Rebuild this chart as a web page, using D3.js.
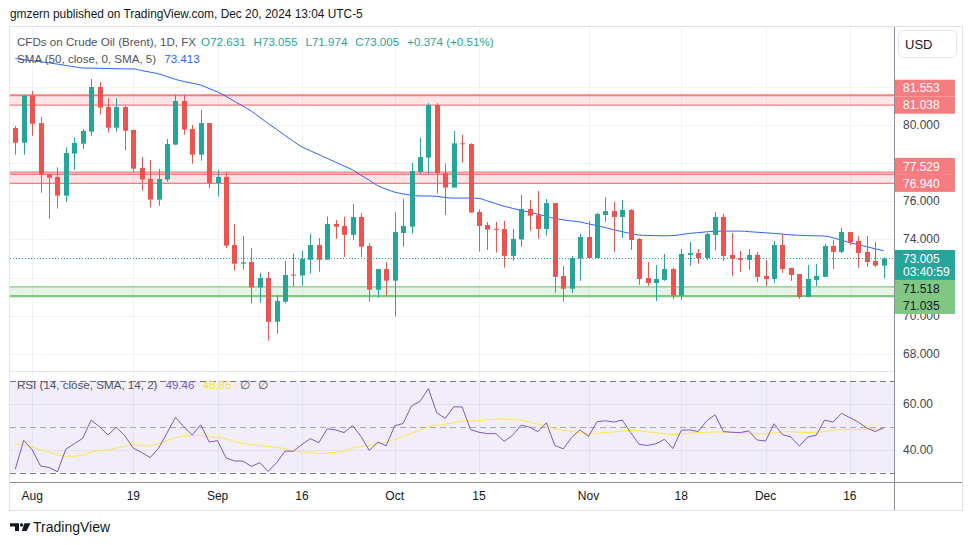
<!DOCTYPE html>
<html>
<head>
<meta charset="utf-8">
<script src="https://cdn.jsdelivr.net/npm/d3@7"></script>
<style>
  body { margin: 0; background: #fff; }
  svg { display: block; font-family: "Liberation Sans", Arial, sans-serif; }
</style>
</head>
<body>
<svg id="chart" width="970" height="545"></svg>
<script>
// daily bars, Jul 30 .. Dec 20 2024
const opens = [79.84,79.07,81.54,80.10,77.41,77.28,76.30,78.50,79.02,79.65,
  81.99,80.94,79.86,80.94,79.74,77.75,77.17,76.09,77.14,78.97,
  81.26,79.79,78.45,80.10,76.96,77.28,73.71,72.73,72.82,71.48,
  71.98,69.69,70.74,72.16,72.11,72.94,73.71,72.94,74.81,74.71,
  74.24,75.18,73.66,71.37,72.45,71.84,74.34,74.67,77.54,78.29,
  81.05,77.47,76.72,79.04,79.00,75.44,74.76,74.55,74.55,73.14,
  74.00,75.60,75.28,74.55,75.91,72.09,71.42,73.00,74.13,73.03,
  75.28,75.49,75.18,75.55,74.03,71.98,71.72,71.88,72.45,71.06,
  73.19,73.29,73.03,74.24,75.18,73.19,73.03,72.93,73.19,72.09,
  71.93,73.71,72.51,72.19,70.99,71.88,72.04,73.66,73.35,74.39,
  73.92,73.35,72.87,72.631];
const highs = [79.95,81.55,81.78,80.42,77.41,77.78,78.83,79.35,79.79,82.41,
  82.24,81.41,81.41,81.01,79.74,78.32,78.17,77.69,79.27,81.59,
  81.59,80.00,80.79,80.10,77.64,77.52,74.81,74.18,73.55,72.24,
  72.30,71.09,72.87,73.26,73.40,74.29,74.08,75.20,75.02,75.20,
  75.86,75.39,73.80,72.45,72.82,75.44,76.12,78.01,79.32,81.14,
  81.14,77.99,79.69,79.48,79.04,75.58,74.92,74.92,74.97,74.55,
  76.33,76.07,76.54,76.12,75.91,72.61,73.14,74.29,74.97,75.39,
  76.23,75.97,76.07,75.60,74.08,72.82,72.66,73.24,72.51,73.50,
  73.87,73.50,74.34,75.44,75.34,74.34,73.40,73.50,73.35,72.93,
  73.92,74.29,72.51,72.19,72.66,72.72,73.76,73.97,74.60,74.39,
  74.18,74.18,73.87,73.055];
const lows = [78.45,78.45,79.44,76.45,75.09,75.62,75.98,77.66,78.74,79.44,
  80.54,79.60,79.65,78.66,77.54,76.56,75.69,75.77,77.03,78.97,
  79.49,77.97,78.13,76.70,76.24,73.54,72.37,72.42,70.64,70.69,
  68.70,69.08,70.66,71.53,71.58,72.21,72.31,72.94,74.04,73.08,
  73.97,73.08,70.74,70.95,71.06,69.96,73.62,74.31,77.41,77.41,
  76.42,75.28,76.72,78.03,75.41,73.36,73.45,73.31,72.52,72.89,
  73.62,74.45,74.03,74.20,71.20,70.73,71.20,71.83,73.00,73.03,
  74.93,73.35,74.08,73.45,71.62,71.56,70.78,71.83,70.88,70.83,
  72.63,72.73,72.93,73.45,72.87,72.09,72.30,72.40,71.77,71.56,
  71.72,72.25,71.83,70.88,70.99,71.56,72.04,72.45,73.29,73.71,
  72.51,72.56,72.56,71.974];
const closes = [79.07,81.54,80.07,77.40,77.24,76.30,78.53,79.06,79.69,81.99,
  80.91,79.86,80.94,79.70,77.71,77.14,76.09,77.17,79.00,81.26,
  79.76,78.45,80.10,76.96,77.28,73.68,72.73,72.80,71.48,71.98,
  69.69,70.78,72.14,72.11,72.98,73.71,72.94,74.81,74.67,74.24,
  75.18,73.62,71.37,72.45,71.84,74.39,74.71,77.59,78.32,81.05,
  77.47,76.72,79.04,79.00,75.41,74.71,74.52,74.50,73.14,74.03,
  75.60,75.25,74.55,75.91,72.04,71.42,73.03,74.13,73.03,75.34,
  75.49,75.18,75.55,73.97,71.93,71.72,71.93,72.45,71.06,73.24,
  73.29,73.03,74.29,75.18,73.14,72.98,72.93,73.19,72.04,71.93,
  73.71,72.45,72.14,70.99,71.93,72.09,73.66,73.35,74.39,73.87,
  73.29,72.82,72.631,73.005];
const sma50 = [83.48,83.42,83.37,83.31,83.26,83.19,83.12,83.05,82.99,82.98,
  82.97,82.96,82.95,82.94,82.94,82.85,82.77,82.68,82.54,82.39,
  82.28,82.19,82.09,81.91,81.73,81.50,81.24,80.99,80.73,80.40,
  80.08,79.77,79.45,79.14,78.85,78.65,78.45,78.25,78.05,77.85,
  77.65,77.37,77.10,76.82,76.64,76.48,76.39,76.32,76.28,76.28,
  76.26,76.20,76.17,76.17,76.17,76.15,76.02,75.88,75.74,75.63,
  75.53,75.43,75.33,75.21,75.10,75.03,74.97,74.92,74.82,74.72,
  74.62,74.51,74.41,74.31,74.23,74.21,74.20,74.19,74.20,74.26,
  74.32,74.36,74.40,74.43,74.44,74.44,74.44,74.41,74.38,74.35,
  74.32,74.28,74.24,74.22,74.20,74.19,74.18,74.09,73.96,73.83,
  73.73,73.62,73.51,73.413];
const rsi = [31.47,43.97,39.86,32.80,32.21,30.30,40.15,42.50,44.86,52.80,
  49.86,46.33,49.71,45.89,40.59,38.68,36.47,40.59,47.21,53.97,
  49.86,46.33,50.74,43.24,43.83,36.33,35.00,35.00,32.65,34.27,
  30.44,34.27,39.27,39.27,42.21,44.71,42.94,48.97,48.53,47.36,
  50.44,45.74,39.56,43.24,41.62,50.30,51.33,58.97,60.89,66.47,
  55.89,53.53,58.53,58.53,48.68,47.50,46.91,46.91,43.53,46.18,
  50.59,49.71,47.79,51.62,41.76,40.29,45.29,48.53,45.74,52.06,
  52.50,51.91,52.79,47.35,42.21,41.76,42.50,44.41,40.44,48.38,
  48.53,47.79,52.35,55.15,47.79,47.50,47.35,48.09,44.12,43.68,
  51.18,46.47,45.44,41.47,45.44,46.18,52.79,51.91,55.74,53.82,
  51.91,49.41,47.79,49.46];
const rsiMa = [42.50,42.06,41.03,39.85,38.97,37.50,37.06,37.06,37.50,38.97,
  39.56,39.71,40.59,41.32,42.06,41.62,41.47,42.50,43.82,45.15,
  45.88,46.18,46.03,45.44,45.29,44.71,43.53,42.65,42.06,41.76,
  41.32,40.88,40.44,39.26,38.97,38.82,38.09,38.53,38.82,39.41,
  40.59,41.32,41.62,42.50,43.24,44.41,45.59,47.06,48.38,49.85,
  50.59,51.03,51.62,52.35,52.35,52.50,52.94,53.24,53.24,53.09,
  52.79,51.91,51.03,50.15,49.12,48.38,47.79,47.35,46.76,47.06,
  47.35,47.65,48.09,48.38,48.09,47.65,47.35,46.76,46.47,46.76,
  47.06,47.35,47.50,47.65,47.50,47.50,47.21,47.06,46.76,46.91,
  47.21,47.65,47.79,47.50,47.35,47.50,47.79,48.38,48.68,48.60,
  48.70,48.80,48.80,48.85];

const timeTickIdx = [2, 14, 24, 34, 45, 55, 68, 79, 89, 99];
const timeTickLabels = ["Aug", "19", "Sep", "16", "Oct", "15", "Nov", "18", "Dec", "16"];
const priceTicks = [68, 70, 72, 74, 76, 78, 80, 82];
const rsiTicks = [40, 60];
const rsiBands = [30, 50, 70];
const redZones = [[81.038, 81.553], [76.940, 77.529]];
const redZoneExtra = [77.42];
const greenZone = [71.035, 71.518];
const countdown = "03:40:59";

const UP = "#26a69a", DOWN = "#ef5350";
const L = 10, R = 894, TOP = 27, MAIN_B = 371, RSI_T = 372, RSI_B = 482, AX_B = 510;

const svg = d3.select("#chart");
const x = d3.scaleLinear().domain([0, 103]).range([15.3, 883.6]);
const y = d3.scaleLinear().domain([68, 80]).range([353.96, 125]);
const yr = d3.scaleLinear().domain([30, 70]).range([472.5, 380.5]);

const defs = svg.append("defs");
defs.append("clipPath").attr("id", "mainClip")
  .append("rect").attr("x", L).attr("y", TOP).attr("width", R - L).attr("height", MAIN_B - TOP);
defs.append("clipPath").attr("id", "rsiClip")
  .append("rect").attr("x", L).attr("y", RSI_T).attr("width", R - L).attr("height", RSI_B - RSI_T);

// header
svg.append("text").attr("x", 10).attr("y", 18).attr("font-size", 11.9).attr("fill", "#131722")
  .text("gmzern published on TradingView.com, Dec 20, 2024 13:04 UTC-5");

// frame
svg.append("rect").attr("x", 9.5).attr("y", 26.5).attr("width", 953).attr("height", AX_B - 26)
  .attr("fill", "none").attr("stroke", "#e0e3eb");

// grid
const grid = svg.append("g");
grid.selectAll("line.v").data(timeTickIdx).join("line")
  .attr("x1", d => Math.round(x(d)) + 0.5).attr("x2", d => Math.round(x(d)) + 0.5)
  .attr("y1", TOP).attr("y2", RSI_B).attr("stroke", "#f0f3fa");
const main = svg.append("g").attr("clip-path", "url(#mainClip)");
main.selectAll("line.h").data(priceTicks).join("line")
  .attr("x1", L).attr("x2", R)
  .attr("y1", d => Math.round(y(d)) + 0.5).attr("y2", d => Math.round(y(d)) + 0.5)
  .attr("stroke", "#f0f3fa");

// zones
redZones.forEach(([lo, hi], k) => {
  main.append("rect").attr("x", L).attr("width", R - L)
    .attr("y", y(hi)).attr("height", y(lo) - y(hi)).attr("fill", "rgba(242,54,69,0.13)");
  main.append("line").attr("x1", L).attr("x2", R).attr("y1", y(hi)).attr("y2", y(hi))
    .attr("stroke", "#f77c80").attr("stroke-width", k === 0 ? 2 : 1.3);
  main.append("line").attr("x1", L).attr("x2", R).attr("y1", y(lo)).attr("y2", y(lo))
    .attr("stroke", "#f77c80").attr("stroke-width", 1.3);
});
redZoneExtra.forEach(v => {
  main.append("line").attr("x1", L).attr("x2", R).attr("y1", y(v)).attr("y2", y(v))
    .attr("stroke", "#f77c80").attr("stroke-width", 1.3);
});
main.append("rect").attr("x", L).attr("width", R - L)
  .attr("y", y(greenZone[1])).attr("height", y(greenZone[0]) - y(greenZone[1]))
  .attr("fill", "rgba(76,175,80,0.14)");
main.append("line").attr("x1", L).attr("x2", R).attr("y1", y(greenZone[1])).attr("y2", y(greenZone[1]))
  .attr("stroke", "#81c784").attr("stroke-width", 1.2);
main.append("line").attr("x1", L).attr("x2", R).attr("y1", y(greenZone[0])).attr("y2", y(greenZone[0]))
  .attr("stroke", "#81c784").attr("stroke-width", 2.2);

// sma
main.append("path").datum(sma50)
  .attr("d", d3.line().x((d, i) => x(i)).y(d => y(d)).curve(d3.curveMonotoneX))
  .attr("fill", "none").attr("stroke", "#2962ff").attr("stroke-width", 1);

// candles
const bars = d3.range(opens.length);
const cg = main.append("g");
cg.selectAll("line.wick").data(bars).join("line")
  .attr("x1", i => Math.round(x(i)) + 0.5).attr("x2", i => Math.round(x(i)) + 0.5)
  .attr("y1", i => y(highs[i])).attr("y2", i => y(lows[i]))
  .attr("stroke", i => closes[i] >= opens[i] ? UP : DOWN);
cg.selectAll("rect.body").data(bars).join("rect")
  .attr("x", i => Math.round(x(i)) - 2).attr("width", 5)
  .attr("y", i => y(Math.max(opens[i], closes[i])))
  .attr("height", i => Math.max(1, Math.abs(y(opens[i]) - y(closes[i]))))
  .attr("fill", i => closes[i] >= opens[i] ? UP : DOWN);

// last price line
const last = opens.length - 1;
main.append("line").attr("x1", L).attr("x2", R)
  .attr("y1", Math.round(y(closes[last])) + 0.5).attr("y2", Math.round(y(closes[last])) + 0.5)
  .attr("stroke", UP).attr("stroke-dasharray", "1,2");

// pane separator
svg.append("line").attr("x1", L).attr("x2", R).attr("y1", MAIN_B + 0.5).attr("y2", MAIN_B + 0.5)
  .attr("stroke", "#e0e3eb");

// RSI pane
const rp = svg.append("g").attr("clip-path", "url(#rsiClip)");
rp.append("rect").attr("x", L).attr("width", R - L).attr("y", yr(70)).attr("height", yr(30) - yr(70))
  .attr("fill", "rgba(126,87,194,0.1)");
rp.selectAll("line.rg").data(rsiTicks).join("line")
  .attr("x1", L).attr("x2", R).attr("y1", d => Math.round(yr(d)) + 0.5).attr("y2", d => Math.round(yr(d)) + 0.5)
  .attr("stroke", "rgba(126,87,194,0.1)");
rp.selectAll("line.rb").data(rsiBands).join("line")
  .attr("x1", L).attr("x2", R).attr("y1", d => Math.round(yr(d)) + 0.5).attr("y2", d => Math.round(yr(d)) + 0.5)
  .attr("stroke", d => d === 50 ? "rgba(120,123,134,0.6)" : "#787b86")
  .attr("stroke-dasharray", "6,4");
rp.append("path").datum(rsiMa)
  .attr("d", d3.line().x((d, i) => x(i)).y(d => yr(d)))
  .attr("fill", "none").attr("stroke", "#fde74c").attr("stroke-width", 1);
rp.append("path").datum(rsi)
  .attr("d", d3.line().x((d, i) => x(i)).y(d => yr(d)))
  .attr("fill", "none").attr("stroke", "#7e57c2").attr("stroke-width", 1);

// axis lines
svg.append("line").attr("x1", R + 0.5).attr("x2", R + 0.5).attr("y1", TOP).attr("y2", AX_B)
  .attr("stroke", "#8c8f99");
svg.append("line").attr("x1", L).attr("x2", 962).attr("y1", RSI_B + 0.5).attr("y2", RSI_B + 0.5)
  .attr("stroke", "#8c8f99");

// time axis labels
svg.selectAll("text.t").data(timeTickIdx).join("text")
  .attr("x", d => x(d)).attr("y", 500).attr("text-anchor", "middle")
  .attr("font-size", 12).attr("fill", "#131722")
  .text((d, k) => timeTickLabels[k]);

// price-scale tags (zones and last price), laid out first so ticks can avoid them
const fmt3 = d3.format(".3f");
const tags = [];
redZones.forEach(([lo, hi]) => {
  const cLo = y(lo), cHi = Math.min(y(hi), y(lo) - 17);
  tags.push({ cy: cHi, h: 17, lines: [fmt3(hi)], bg: "#f77c80", fg: "#fff" });
  tags.push({ cy: cLo, h: 17, lines: [fmt3(lo)], bg: "#f77c80", fg: "#fff" });
});
const cLast = y(closes[last]);
tags.push({ cy: cLast, h: 30, lines: [fmt3(closes[last]), countdown], bg: UP, fg: "#fff" });
const gHi = Math.max(y(greenZone[1]), cLast + 21.5 + 8.5);
const gLo = Math.max(y(greenZone[0]), gHi + 17);
tags.push({ cy: gHi, h: 17, lines: [fmt3(greenZone[1])], bg: "#81c784", fg: "#131722" });
tags.push({ cy: gLo, h: 17, lines: [fmt3(greenZone[0])], bg: "#81c784", fg: "#131722" });

// price axis labels (the ones hidden under a tag are not drawn, 70 stays partly covered)
const visibleTicks = priceTicks.filter(d => y(d) > TOP + 8 && y(d) < MAIN_B - 6 &&
  tags.every(t => Math.abs(y(d) - (t.cy + (t.h - 17) / 2)) > 9.5 + (t.h - 17) / 2));
svg.selectAll("text.p").data(visibleTicks).join("text")
  .attr("x", 903).attr("y", d => y(d) + 4).attr("font-size", 12).attr("fill", "#434651")
  .text(d => fmt3(d));
svg.selectAll("text.r").data(rsiTicks).join("text")
  .attr("x", 903).attr("y", d => yr(d) + 4).attr("font-size", 12).attr("fill", "#434651")
  .text(d => d3.format(".2f")(d));

tags.forEach(t => {
  svg.append("rect").attr("x", 895).attr("y", t.cy - 8.5).attr("width", 60).attr("height", t.h).attr("fill", t.bg);
  t.lines.forEach((s, k) => {
    svg.append("text").attr("x", 903).attr("y", t.cy + 4.3 + k * 13.7).attr("font-size", 12)
      .attr("fill", t.fg).text(s);
  });
});

// currency button
svg.append("rect").attr("x", 898.5).attr("y", 30.5).attr("width", 58).attr("height", 27).attr("rx", 5)
  .attr("fill", "#fff").attr("stroke", "#e0e3eb");
svg.append("text").attr("x", 905).attr("y", 48.5).attr("font-size", 13).attr("fill", "#131722").text("USD");

// legends
const chg = closes[last] - closes[last - 1];
const leg1 = svg.append("text").attr("x", 17).attr("y", 46).attr("font-size", 11.6);
leg1.append("tspan").attr("fill", "#50535e").text("CFDs on Crude Oil (Brent), 1D, FX");
leg1.append("tspan").attr("dx", 5).attr("fill", UP).text("O" + fmt3(opens[last]));
leg1.append("tspan").attr("dx", 8).attr("fill", UP).text("H" + fmt3(highs[last]));
leg1.append("tspan").attr("dx", 8).attr("fill", UP).text("L" + fmt3(lows[last]));
leg1.append("tspan").attr("dx", 8).attr("fill", UP).text("C" + fmt3(closes[last]));
leg1.append("tspan").attr("dx", 8).attr("fill", UP)
  .text("+" + fmt3(chg) + " (+" + (chg / closes[last - 1] * 100).toFixed(2) + "%)");
const leg2 = svg.append("text").attr("x", 17).attr("y", 63).attr("font-size", 11.6);
leg2.append("tspan").attr("fill", "#50535e").text("SMA (50, close, 0, SMA, 5)");
leg2.append("tspan").attr("dx", 8).attr("fill", "#2962ff").text(fmt3(sma50[last]));
const leg3 = svg.append("text").attr("x", 17).attr("y", 389).attr("font-size", 11.6);
leg3.append("tspan").attr("fill", "#50535e").text("RSI (14, close, SMA, 14, 2)");
leg3.append("tspan").attr("dx", 8).attr("fill", "#7e57c2").text(rsi[last].toFixed(2));
leg3.append("tspan").attr("dx", 8).attr("fill", "#f5e148").text(rsiMa[last].toFixed(2));
leg3.append("tspan").attr("dx", 8).attr("fill", "#50535e").text("\u2205");
leg3.append("tspan").attr("dx", 8).attr("fill", "#50535e").text("\u2205");

// footer logo
const logo = svg.append("g").attr("fill", "#131722");
logo.append("path").attr("d", "M10,523.3H19V531H15V526.5H10Z");
logo.append("circle").attr("cx", 21.6).attr("cy", 525).attr("r", 1.7);
logo.append("path").attr("d", "M24.5,523.3H30.5L26.5,531H21.8Z");
svg.append("text").attr("x", 33).attr("y", 532).attr("font-size", 14).attr("fill", "#131722").text("TradingView");
</script>
</body>
</html>
